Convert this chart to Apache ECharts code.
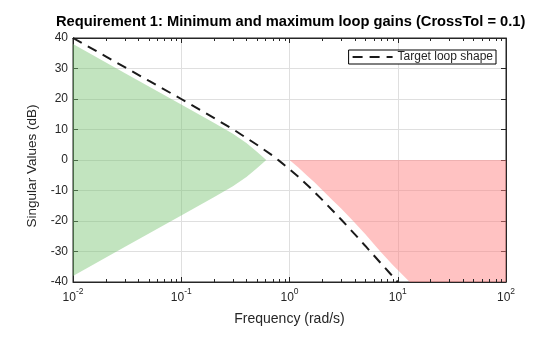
<!DOCTYPE html>
<html>
<head>
<meta charset="utf-8">
<script src="https://cdn.jsdelivr.net/npm/echarts@6/dist/echarts.min.js"></script>
<style>
html,body{margin:0;padding:0;background:#fff;}
#chart{width:560px;height:337px;}
</style>
</head>
<body>
<div id="chart"></div>
<script>
// Target loop shape (dashed line)
const targetFreq = [0.01, 0.02, 0.05, 0.1, 0.2, 0.3, 0.5, 0.7, 0.8, 1, 1.2, 1.5, 2, 3, 4, 5, 7, 8.5, 10];
const targetGain = [40, 34, 26, 20, 13.8, 10.1, 5.0, 1.4, -0.2, -3.0, -5.4, -8.6, -13.0, -19.5, -24.3, -28.1, -33.9, -37.2, -40];

// Minimum gain region (green) upper edge, lower edge is its mirror
const minFreq = [0.01, 0.03, 0.1, 0.2, 0.3, 0.4, 0.5, 0.61];
const minGainUpper = [38, 28.5, 18.2, 12.2, 8.6, 5.6, 2.7, 0];
const minGainLower = [-38, -28.5, -18.2, -12.2, -8.6, -5.6, -2.7, 0];

// Maximum gain region (red) lower edge, closed at 0 dB up to 100 rad/s
const maxFreq = [1, 1.2, 1.44, 1.7, 2.05, 2.5, 3, 3.87, 5, 6.84, 9, 12.9, 100, 100];
const maxGain = [0, -2.4, -5.0, -7.3, -10.2, -13.2, -15.9, -20.0, -24.3, -29.8, -34.4, -40, -40, 0];

// Axis ticks
const xMajorTicks = [0.01, 0.1, 1, 10, 100];
const xMinorTicks = [0.02,0.03,0.04,0.05,0.06,0.07,0.08,0.09,
                     0.2,0.3,0.4,0.5,0.6,0.7,0.8,0.9,
                     2,3,4,5,6,7,8,9,
                     20,30,40,50,60,70,80,90];
const yTicks = [-40, -30, -20, -10, 0, 10, 20, 30, 40];

const FONT = 'Liberation Sans, Arial, Helvetica, sans-serif';
const AX = '#262626';

const chart = echarts.init(document.getElementById('chart'), null, {renderer: 'canvas'});

function polygonSeries(name, xs, ys, color) {
  return {
    name: name,
    type: 'custom',
    coordinateSystem: 'cartesian2d',
    silent: true,
    z: 3,
    data: [[xs[0], ys[0]]],
    renderItem: function (params, api) {
      const pts = xs.map((x, i) => api.coord([x, ys[i]]));
      return {type: 'polygon', shape: {points: pts}, style: {fill: color, stroke: null}};
    }
  };
}

const greenX = minFreq.concat(minFreq.slice().reverse());
const greenY = minGainUpper.concat(minGainLower.slice().reverse());

const option = {
  backgroundColor: '#ffffff',
  animation: false,
  title: {
    text: 'Requirement 1: Minimum and maximum loop gains (CrossTol = 0.1)',
    left: 51, top: 9,
    textStyle: {fontFamily: FONT, fontSize: 14.7, fontWeight: 'bold', color: '#000'}
  },
  legend: {
    data: ['Target loop shape'],
    right: 64, top: 50,
    orient: 'vertical',
    itemWidth: 40, itemHeight: 10,
    padding: [1, 3, 1, 3],
    borderColor: '#000', borderWidth: 1,
    backgroundColor: '#fff',
    itemStyle: {opacity: 0},
    textStyle: {fontFamily: FONT, fontSize: 12, color: AX}
  },
  grid: {left: 73, right: 54, top: 38, bottom: 55, show: true, borderColor: AX, borderWidth: 1, backgroundColor: 'transparent'},
  xAxis: [{
    type: 'log', logBase: 10, min: 0.01, max: 100,
    name: 'Frequency (rad/s)', nameLocation: 'middle', nameGap: 30,
    nameTextStyle: {fontFamily: FONT, fontSize: 14, color: AX},
    axisLine: {show: true, onZero: false, lineStyle: {color: AX}},
    axisTick: {show: true, inside: true, length: 5, lineStyle: {color: AX}},
    splitLine: {show: true, lineStyle: {color: '#dfdfdf'}},
    axisLabel: {
      margin: 5,
      formatter: function (v) { return '{b|10}{s|' + Math.round(Math.log10(v)) + '}'; },
      rich: {
        b: {fontFamily: FONT, fontSize: 12, color: AX, verticalAlign: 'bottom'},
        s: {fontFamily: FONT, fontSize: 8.5, color: AX, verticalAlign: 'top', padding: [0, 0, 8, 0]}
      }
    }
  }, {
    type: 'log', logBase: 10, min: 0.01, max: 100, position: 'top',
    axisLine: {show: true, onZero: false, lineStyle: {color: AX}},
    axisTick: {show: true, inside: true, length: 5, lineStyle: {color: AX}},
    axisLabel: {show: false}, splitLine: {show: false}
  }],
  yAxis: [{
    type: 'value', min: -40, max: 40, interval: 10,
    name: 'Singular Values (dB)', nameLocation: 'middle', nameGap: 32,
    nameTextStyle: {fontFamily: FONT, fontSize: 13.5, color: AX, padding: [0, 12, 0, 0]},
    axisLine: {show: true, onZero: false, lineStyle: {color: AX}},
    axisTick: {show: true, inside: true, length: 5, lineStyle: {color: AX}},
    splitLine: {show: true, lineStyle: {color: '#dfdfdf'}},
    axisLabel: {margin: 5, fontFamily: FONT, fontSize: 12, color: AX}
  }, {
    type: 'value', min: -40, max: 40, interval: 10, position: 'right',
    axisLine: {show: true, onZero: false, lineStyle: {color: AX}},
    axisTick: {show: true, inside: true, length: 5, lineStyle: {color: AX}},
    axisLabel: {show: false}, splitLine: {show: false}
  }],
  series: [
    polygonSeries('min', greenX, greenY, 'rgba(120,196,114,0.45)'),
    polygonSeries('max', maxFreq, maxGain, 'rgba(255,128,128,0.48)'),
    {
      name: 'Target loop shape',
      type: 'line',
      symbol: 'none',
      z: 5,
      data: targetFreq.map((f, i) => [f, targetGain[i]]),
      lineStyle: {color: '#1a1a1a', width: 2, type: [10, 7]},
      itemStyle: {color: '#1a1a1a'}
    },
    {
      name: 'minorTicks',
      type: 'custom',
      silent: true,
      z: 6,
      data: xMinorTicks.map(v => [v, 0]),
      encode: {x: 0, y: 1},
      renderItem: function (params, api) {
        const v = api.value(0);
        const b = api.coord([v, -40]);
        const t = api.coord([v, 40]);
        const x = Math.round(b[0]) + 0.5;
        return {
          type: 'group',
          children: [
            {type: 'line', shape: {x1: x, y1: b[1], x2: x, y2: b[1] - 3}, style: {stroke: AX, lineWidth: 1}},
            {type: 'line', shape: {x1: x, y1: t[1], x2: x, y2: t[1] + 3}, style: {stroke: AX, lineWidth: 1}}
          ]
        };
      }
    }
  ]
};
chart.setOption(option);
</script>
</body>
</html>
